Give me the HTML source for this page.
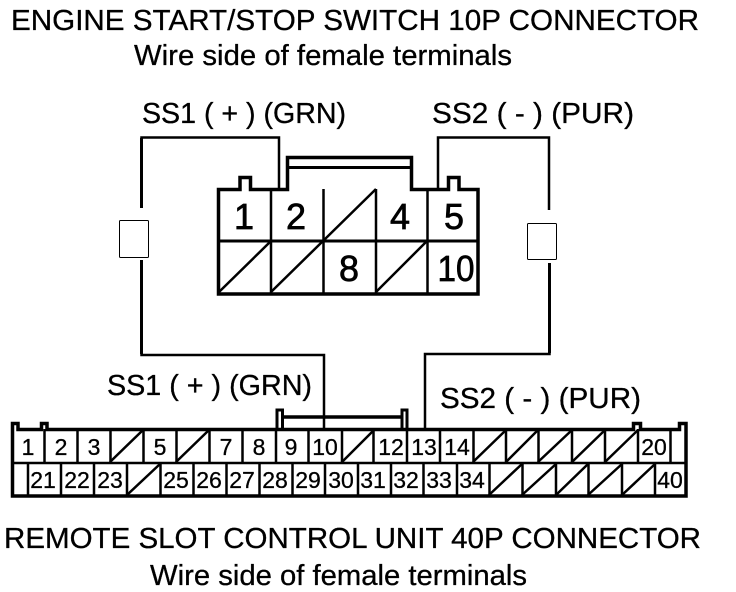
<!DOCTYPE html>
<html>
<head>
<meta charset="utf-8">
<style>
html,body{margin:0;padding:0;background:#fff;width:736px;height:592px;overflow:hidden}
svg{display:block}
text{font-family:"Liberation Sans",sans-serif;fill:#000;stroke:#000;stroke-width:.3px}
.t{font-size:29px}
.n{font-size:36px;text-anchor:middle;stroke-width:.7px}
.s{font-size:23px;text-anchor:middle}
</style>
</head>
<body>
<svg width="736" height="592" viewBox="0 0 736 592" xmlns="http://www.w3.org/2000/svg">
<rect width="736" height="592" fill="#fff"/>

<text class="t" x="11" y="30" textLength="688" lengthAdjust="spacingAndGlyphs">ENGINE START/STOP SWITCH 10P CONNECTOR</text>
<text class="t" x="134" y="65" textLength="378" lengthAdjust="spacingAndGlyphs">Wire side of female terminals</text>
<text class="t" x="142" y="123" textLength="204" lengthAdjust="spacingAndGlyphs">SS1 ( + ) (GRN)</text>
<text class="t" x="432" y="123" textLength="202" lengthAdjust="spacingAndGlyphs">SS2 ( - ) (PUR)</text>
<text class="t" x="107" y="395" textLength="205" lengthAdjust="spacingAndGlyphs">SS1 ( + ) (GRN)</text>
<text class="t" x="440" y="408" textLength="201" lengthAdjust="spacingAndGlyphs">SS2 ( - ) (PUR)</text>
<text class="t" x="4" y="548" textLength="697" lengthAdjust="spacingAndGlyphs">REMOTE SLOT CONTROL UNIT 40P CONNECTOR</text>
<text class="t" x="150" y="585" textLength="377" lengthAdjust="spacingAndGlyphs">Wire side of female terminals</text>

<!-- wires -->
<g fill="none" stroke="#000" stroke-width="2.500">
<path d="M141.500 208V137.500H279V189"/>
<path d="M141.500 260V355H324V430"/>
<path d="M438 189V137.500H549V210"/>
<path d="M549.500 263V354H425V430"/>
</g>
<g stroke="#000" stroke-width="3" fill="none">
<path d="M141.500 138V208M141.500 260V354"/>
<path d="M549.500 263V353"/>
</g>
<rect x="119.500" y="220.500" width="29" height="37" rx="1" fill="#fff" stroke="#000" stroke-width="1"/>
<rect x="527.500" y="223.500" width="29" height="36" rx="1" fill="#fff" stroke="#000" stroke-width="1"/>

<!-- 10P connector -->
<g fill="none" stroke="#000">
<path stroke-width="3.500" d="M218.500 294V189.500H240V177.500H250.500V189.500H287.500V157.500H411.500V189.500H448.500V177.500H459V189.500H478V294Z"/>
<path stroke-width="3" d="M287 167.500H412"/>
<path stroke-width="3" d="M219 241H478"/>
<path stroke-width="2.500" d="M271 189V293M323.500 189V293M376 189V293M427.500 189V293"/>
<path stroke-width="2.500" d="M219 292L271 241M271 292L323 241M323 241L376 189M376 292L427 241"/>
</g>
<text class="n" x="244" y="229">1</text>
<text class="n" x="296" y="229">2</text>
<text class="n" x="400" y="229">4</text>
<text class="n" x="454" y="229">5</text>
<text class="n" x="349" y="281">8</text>
<text class="n" x="456" y="281" textLength="37" lengthAdjust="spacingAndGlyphs">10</text>

<!-- 40P connector -->
<g fill="none" stroke="#000">
<path stroke-width="3.500" d="M12.500 496V423.500H18V429.500H41.500V423.500H47V429.500H633.500V423.500H640.500V429.500H679.500V423.500H686V496Z"/>
<path stroke-width="3" d="M277 429V410H282.500V429M402 429V410H407V429"/>
<path stroke-width="3.500" d="M282 417H402"/>
<path stroke-width="2.500" d="M12 463H686"/>
<path stroke-width="2.500" d="M44.500 429V463M77.500 429V463M110.500 429V463M143.500 429V463M176.500 429V463M209.500 429V463M242.500 429V463M276 429V463M308.500 429V463M342 429V463M373.500 429V463M407 429V463M440 429V463M473.500 429V463M506 429V463M538.500 429V463M572 429V463M605 429V463M638 429V463M670.500 429V463"/>
<path stroke-width="2.500" d="M28 463V496M61 463V496M94 463V496M127 463V496M160.500 463V496M193.500 463V496M226.500 463V496M259.500 463V496M292.500 463V496M325 463V496M358 463V496M391 463V496M423.500 463V496M457 463V496M489.500 463V496M522.500 463V496M556 463V496M588.500 463V496M622 463V496M655 463V496"/>
<path stroke-width="2.500" d="M110 462L143 430M176 462L209 430M342 462L374 430M473 462L506 430M506 462L538 430M538 462L572 430M572 462L605 430M605 462L638 430M127 495L160 464M489 495L522 464M522 495L556 464M556 495L588 464M588 495L622 464M622 495L655 464"/>
</g>
<g>
<text class="s" x="28" y="455">1</text>
<text class="s" x="61" y="455">2</text>
<text class="s" x="94" y="455">3</text>
<text class="s" x="160" y="455">5</text>
<text class="s" x="226" y="455">7</text>
<text class="s" x="259" y="455">8</text>
<text class="s" x="291" y="455">9</text>
<text class="s" x="325" y="455">10</text>
<text class="s" x="391" y="455">12</text>
<text class="s" x="424" y="455">13</text>
<text class="s" x="457" y="455">14</text>
<text class="s" x="654" y="455">20</text>
<text class="s" x="43" y="488">21</text>
<text class="s" x="77" y="488">22</text>
<text class="s" x="110" y="488">23</text>
<text class="s" x="176" y="488">25</text>
<text class="s" x="209" y="488">26</text>
<text class="s" x="242" y="488">27</text>
<text class="s" x="275" y="488">28</text>
<text class="s" x="308" y="488">29</text>
<text class="s" x="341" y="488">30</text>
<text class="s" x="373" y="488">31</text>
<text class="s" x="406" y="488">32</text>
<text class="s" x="439" y="488">33</text>
<text class="s" x="472" y="488">34</text>
<text class="s" x="670" y="488">40</text>
</g>
</svg>
</body>
</html>
